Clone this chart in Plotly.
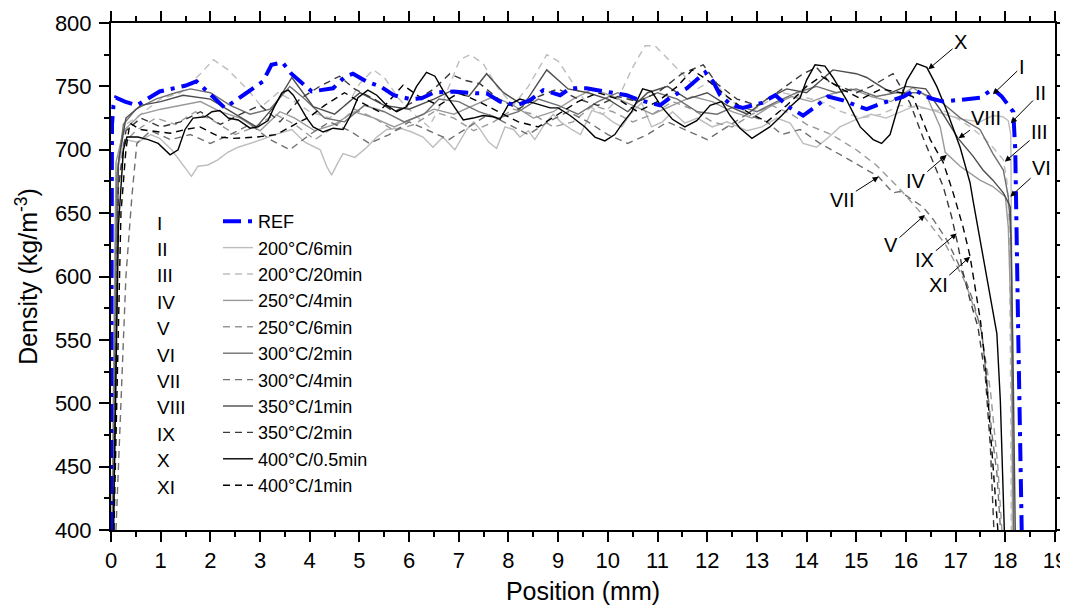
import plotly.graph_objects as go

# ---------------- data ----------------
ref_x = [0.0, 0.02, 0.05, 0.1, 0.28, 0.52, 0.98, 1.49, 1.72, 2.06, 2.29, 2.66, 3.06, 3.23, 3.45, 3.63, 4.04, 4.47, 4.71, 4.87,
         5.15, 5.42, 5.69, 6.02, 6.25, 6.49, 6.89, 7.36, 7.56, 7.83, 8.17, 8.43, 8.7, 9.04, 9.24, 9.57, 9.98, 10.38, 10.65,
         11.05, 11.25, 11.59, 11.96, 12.12, 12.26, 12.49, 12.72, 13.1, 13.37, 13.53, 13.67, 13.93, 14.2, 14.43, 14.73,
         15.08, 15.21, 15.54, 15.94, 16.18, 16.49, 16.75, 17.22, 17.49, 17.75, 17.93, 18.16, 18.2, 18.26, 18.31, 18.33]
ref_y = [400, 720, 735, 741, 738, 735, 746, 750.5, 754, 742, 733, 743, 754, 767, 769, 760, 746, 748.5, 757.7, 760,
         753.7, 750, 743, 740, 740.6, 745, 746, 744.5, 744.5, 738, 735, 739, 747, 743, 748.5, 748.5, 746, 743, 739,
         735, 741, 748.5, 761, 753.7, 743, 735, 733, 737, 743, 738, 733, 727, 734.5, 742, 739,
         733.7, 732, 737, 741.6, 747, 740.6, 738, 740, 741, 748, 742, 730, 700, 555, 408, 400]

ii_x = [0.02, 0.1, 0.28, 0.54, 0.8, 0.98, 1.22, 1.39, 1.52, 1.62, 1.75, 1.95, 2.15, 2.35, 2.56, 2.8, 3.03, 3.3, 3.64, 3.9,
        4.21, 4.34, 4.44, 4.57, 4.67, 4.91, 5.15, 5.35, 5.55, 5.82, 6.05, 6.28, 6.48, 6.68, 6.92, 7.16, 7.3, 7.43, 7.6,
        7.76, 7.93, 8.1, 8.23, 8.4, 8.53, 8.74, 8.9, 9.05, 9.27, 9.45, 9.68, 9.9, 10.1, 10.28, 10.45, 10.68, 10.88,
        11.1, 11.3, 11.55, 11.8, 12.1, 12.4, 12.8, 13.1, 13.4, 13.67, 13.93, 14.2, 14.45, 14.67, 15.0, 15.3, 15.6,
        15.9, 16.2, 16.55, 16.85, 17.15, 17.49, 17.75, 17.95, 18.06, 18.11, 18.13, 18.14]
ii_y = [400, 680, 708, 706, 712, 709, 700, 691, 684, 679, 687, 688, 692, 698, 702, 705, 708, 712, 716, 706,
        700, 687, 680, 690, 697, 694, 702, 710, 716, 717, 714, 710, 702, 710, 700, 716, 722, 716, 706,
        701, 718, 716, 710, 715, 708, 721, 728, 722, 716, 712, 731, 728, 722, 718, 728, 737, 718,
        722, 730, 721, 725, 718, 722, 715, 718, 725, 721, 705, 702, 710, 718, 724, 728, 725,
        730, 735, 731, 727, 724, 722, 727, 726, 723, 712, 600, 400]

iii_x = [0.03, 0.12, 0.3, 0.6, 1.0, 1.4, 1.8, 2.06, 2.36, 2.76, 3.03, 3.36, 3.7, 4.0, 4.4, 4.8, 5.0, 5.28, 5.5, 5.8,
         6.1, 6.4, 6.7, 7.02, 7.23, 7.49, 7.8, 8.1, 8.4, 8.77, 9.0, 9.3, 9.6, 9.9, 10.2, 10.5, 10.75, 10.95, 11.2,
         11.5, 11.8, 12.1, 12.4, 12.8, 13.1, 13.5, 13.9, 14.3, 14.7, 15.1, 15.5, 15.9, 16.3, 16.82, 17.3, 17.6,
         17.75, 17.96, 18.03, 18.08, 18.11, 18.12]
iii_y = [400, 690, 720, 728, 740, 745, 760, 771, 763, 747, 734, 745, 738, 730, 725, 738, 752, 763, 757, 740,
         728, 718, 740, 771, 775, 768, 748, 735, 750, 775, 770, 752, 735, 728, 740, 765, 782, 782, 772,
         760, 748, 755, 742, 728, 735, 745, 742, 738, 730, 725, 728, 735, 733, 730, 718, 708,
         702, 692, 676, 640, 500, 400]

iv_x = [0.02, 0.1, 0.25, 0.6, 1.0, 1.4, 1.8, 2.2, 2.6, 3.0, 3.4, 3.7, 4.1, 4.5, 4.9, 5.3, 5.7, 6.1, 6.5, 6.9, 7.3,
        7.7, 8.1, 8.5, 8.9, 9.3, 9.7, 10.1, 10.5, 10.9, 11.3, 11.7, 12.1, 12.5, 12.9, 13.3, 13.7, 14.1, 14.5, 14.9,
        15.3, 15.7, 16.14, 16.42, 16.69, 16.79, 17.09, 17.49, 17.75, 18.0, 18.06, 18.12, 18.16]
iv_y = [400, 690, 715, 728, 732, 735, 738, 730, 725, 715, 730, 725, 715, 720, 730, 725, 718, 725, 732, 728, 735,
        742, 735, 725, 730, 740, 748, 742, 735, 728, 735, 742, 738, 730, 725, 735, 742, 738, 744, 748,
        742, 738, 749, 742, 718, 698, 687, 676, 671, 663, 639, 560, 400]

v_x = [0.05, 0.12, 0.25, 0.5, 0.9, 1.3, 1.7, 2.1, 2.5, 2.9, 3.3, 3.7, 4.1, 4.5, 4.9, 5.3, 5.7, 6.1, 6.5, 6.9, 7.3,
       7.7, 8.1, 8.5, 8.9, 9.3, 9.7, 10.1, 10.5, 10.9, 11.3, 11.7, 12.1, 12.5, 12.9, 13.3, 13.7, 14.0, 14.5, 15.0,
       15.4, 15.9, 16.35, 16.8, 17.2, 17.5, 17.7, 17.85, 17.93]
v_y = [400, 660, 705, 715, 725, 720, 730, 722, 712, 718, 728, 720, 708, 718, 732, 725, 715, 720, 730, 725, 715,
       722, 732, 728, 718, 722, 735, 730, 722, 728, 738, 732, 722, 718, 728, 735, 728, 720, 712, 700,
       688, 668, 648, 625, 595, 560, 510, 450, 400]

vi_x = [0.03, 0.12, 0.25, 0.5, 0.9, 1.3, 1.6, 2.0, 2.4, 2.8, 3.2, 3.6, 3.9, 4.3, 4.7, 5.1, 5.5, 5.9, 6.3, 6.6, 7.0,
        7.4, 7.8, 8.2, 8.6, 9.0, 9.4, 9.8, 10.2, 10.6, 11.0, 11.4, 11.8, 12.2, 12.6, 13.0, 13.4, 13.8, 14.2, 14.6,
        15.0, 15.4, 15.8, 16.3, 16.7, 17.1, 17.49, 17.75, 17.96, 18.06, 18.12, 18.17]
vi_y = [400, 680, 720, 732, 740, 745, 748, 745, 735, 728, 732, 750, 740, 725, 722, 735, 730, 722, 728, 740, 738,
        730, 725, 730, 740, 735, 728, 738, 745, 738, 745, 740, 730, 728, 735, 730, 738, 745, 750, 745,
        748, 742, 745, 745, 738, 725, 716, 697, 684, 663, 630, 400]

vii_x = [0.1, 0.3, 0.42, 0.52, 0.8, 1.2, 1.6, 2.0, 2.4, 2.8, 3.2, 3.6, 4.0, 4.4, 4.8, 5.2, 5.6, 6.0, 6.4, 6.8, 7.2, 7.6,
         8.0, 8.4, 8.8, 9.2, 9.6, 10.0, 10.4, 10.8, 11.2, 11.6, 12.0, 12.4, 12.8, 13.2, 13.5, 13.87, 14.27, 14.73,
         15.21, 15.44, 15.74, 15.88, 16.34, 16.55, 16.82, 17.02, 17.22, 17.35, 17.53, 17.63, 17.73, 17.83, 17.9]
vii_y = [400, 600, 663, 705, 715, 708, 712, 705, 712, 720, 708, 700, 712, 722, 715, 705, 712, 722, 715, 708, 718, 728,
         720, 712, 722, 730, 722, 712, 705, 712, 722, 715, 708, 718, 728, 722, 712, 716, 705, 695,
         684, 679, 666, 667, 655, 645, 629, 613, 595, 581, 555, 516, 476, 445, 402]

viii_x = [0.05, 0.15, 0.3, 0.6, 1.0, 1.45, 2.0, 2.46, 2.93, 3.3, 3.64, 4.07, 4.5, 5.01, 5.5, 6.0, 6.5, 6.82, 7.2,
          7.56, 7.9, 8.3, 8.77, 9.2, 9.6, 10.0, 10.4, 10.8, 11.2, 11.6, 12.0, 12.4, 12.8, 13.2, 13.6, 14.0, 14.53,
          15.0, 15.21, 15.41, 15.7, 16.0, 16.4, 16.7, 17.05, 17.35, 17.55, 17.75, 17.96, 18.1, 18.15, 18.2]
viii_y = [400, 690, 725, 735, 738, 743, 740, 729, 718, 735, 757, 734, 728, 745, 735, 732, 740, 746, 742,
          760, 745, 735, 763, 748, 745, 740, 730, 745, 750, 740, 745, 735, 728, 740, 748, 745, 763,
          760, 757, 752, 745, 750, 748, 731, 709, 695, 684, 676, 666, 655, 550, 400]

ix_x = [0.05, 0.15, 0.3, 0.6, 1.0, 1.4, 1.8, 2.2, 2.6, 3.0, 3.4, 3.8, 4.2, 4.6, 4.9, 5.3, 5.7, 6.1, 6.5, 6.82, 7.1,
        7.43, 7.8, 8.2, 8.6, 9.0, 9.4, 9.8, 10.2, 10.6, 11.0, 11.49, 11.92, 12.2, 12.6, 13.0, 13.4, 13.93, 14.2,
        14.47, 14.8, 15.0, 15.3, 15.74, 16.08, 16.34, 16.55, 16.75, 16.92, 17.05, 17.15, 17.3, 17.45, 17.6, 17.7,
        17.77]
ix_y = [400, 670, 715, 725, 718, 722, 730, 720, 728, 735, 722, 740, 750, 758, 748, 740, 730, 738, 748, 760, 755,
        752, 740, 732, 742, 748, 740, 735, 742, 738, 745, 760, 767, 752, 740, 735, 745, 760, 765,
        753, 748, 745, 750, 760, 737, 710, 690, 671, 647, 624, 603, 580, 560, 520, 465, 400]

x_x = [0.05, 0.15, 0.25, 0.32, 0.54, 0.75, 0.95, 1.19, 1.35, 1.49, 1.65, 1.89, 2.03, 2.19, 2.36, 2.56, 2.8, 2.96,
       3.16, 3.3, 3.44, 3.57, 3.67, 3.8, 3.94, 4.07, 4.27, 4.47, 4.67, 4.81, 4.97, 5.17, 5.35, 5.55, 5.75, 5.95,
       6.15, 6.35, 6.52, 6.68, 6.89, 7.09, 7.29, 7.49, 7.69, 7.83, 7.99, 8.23, 8.5, 8.84, 9.0, 9.24, 9.54, 9.74,
       9.94, 10.14, 10.28, 10.48, 10.7, 10.88, 11.08, 11.3, 11.55, 11.79, 12.06, 12.29, 12.46, 12.66, 12.9, 13.06,
       13.26, 13.5, 13.67, 13.87, 14.0, 14.17, 14.37, 14.53, 14.81, 15.08, 15.34, 15.51, 15.68, 15.82, 16.02,
       16.22, 16.42, 16.62, 16.82, 17.09, 17.29, 17.35, 17.53, 17.7, 17.83, 17.9, 17.95, 17.98]
x_y = [400, 640, 700, 710, 710, 708, 705, 696, 700, 716, 725, 726, 730, 731, 725, 723.5, 717, 718,
       723, 735, 745, 747, 743, 734, 725, 718, 714, 717, 716, 726, 741, 747, 743, 735, 730, 734,
       750, 761, 758, 747, 735, 723.5, 725, 727, 726, 724, 735, 740, 737, 733, 733, 727, 718, 710,
       707, 712, 720, 730, 748, 746, 734, 724, 718, 723, 735, 738, 727, 717, 709, 713,
       718, 727, 734, 741, 755, 767, 766, 757, 739, 718, 708, 705, 712, 731, 755,
       768, 765, 750, 731, 702, 674, 660, 621, 581, 555, 502, 440, 400]

xi_x = [0.06, 0.2, 0.3, 0.38, 0.58, 0.92, 1.19, 1.5, 1.79, 2.19, 2.46, 2.93, 3.33, 3.7, 4.0, 4.3, 4.7, 5.0, 5.4, 5.88,
        6.2, 6.6, 7.0, 7.4, 7.8, 8.2, 8.6, 9.0, 9.4, 9.8, 10.2, 10.6, 11.0, 11.4, 11.7, 12.0, 12.4, 12.8, 13.2,
        13.6, 14.0, 14.3, 14.7, 15.1, 15.5, 15.9, 16.14, 16.49, 16.75, 16.95, 17.15, 17.29, 17.39, 17.5, 17.6,
        17.7, 17.8, 17.85]
xi_y = [400, 650, 700, 721, 716, 714, 713, 716, 718, 710, 709, 710, 712, 720, 726, 735, 745, 738, 730, 751,
        742, 735, 745, 738, 730, 722, 718, 728, 738, 745, 740, 730, 738, 750, 763, 755, 742, 730, 722,
        735, 750, 758, 748, 740, 748, 745, 742, 708, 690, 666, 639, 616, 592, 565, 530,
        480, 430, 400]

numerals = ["I", "II", "III", "IV", "V", "VI", "VII", "VIII", "IX", "X", "XI"]
labels = ["REF", "200°C/6min", "200°C/20min", "250°C/4min", "250°C/6min", "300°C/2min",
          "300°C/4min", "350°C/1min", "350°C/2min", "400°C/0.5min", "400°C/1min"]
x_ticks = list(range(0, 20))
y_ticks = list(range(400, 801, 50))

# ---------------- styles ----------------
series = [
    (ii_x, ii_y, "#bdbdbd", "solid"),
    (iii_x, iii_y, "#bdbdbd", "7px,5px"),
    (iv_x, iv_y, "#999999", "solid"),
    (v_x, v_y, "#999999", "7px,5px"),
    (vi_x, vi_y, "#707070", "solid"),
    (vii_x, vii_y, "#707070", "7px,5px"),
    (viii_x, viii_y, "#4d4d4d", "solid"),
    (ix_x, ix_y, "#3a3a3a", "7px,5px"),
    (x_x, x_y, "#000000", "solid"),
    (xi_x, xi_y, "#000000", "7px,5px"),
]

FONT = "Arial, Liberation Sans, sans-serif"
fig = go.Figure()
for i, (xs, ys, col, dash) in enumerate(series):
    fig.add_trace(go.Scatter(x=xs, y=ys, mode="lines", name=labels[i + 1],
                             line=dict(color=col, width=1.4, dash=dash),
                             legendrank=i + 2))
fig.add_trace(go.Scatter(x=ref_x, y=ref_y, mode="lines", name=labels[0],
                         line=dict(color="#0000ff", width=4, dash="18px,7px,4px,7px"),
                         legendrank=1))

# the page body adds an 8 px offset; the figure is sized to compensate
OFF = 8
FIG_W, FIG_H = 1068 - OFF, 606 - OFF
# plot area in page pixels
L, R, T, B = 111, 1055, 23, 530
W, H = R - L, B - T

annotations = []
# roman numerals of the legend
row0, step = 223, 26.4
for k, num in enumerate(numerals):
    ypx = row0 + k * step
    annotations.append(dict(text=num, xref="paper", yref="paper", x=(155 - L) / W, y=(B - ypx) / H,
                            xanchor="left", yanchor="middle", showarrow=False,
                            font=dict(size=19, color="black", family=FONT)))

# labelled arrows: (text, tip_x, tip_y, text_x, text_y)
callouts = [
    ("X", 16.45, 763.5, 17.1, 785),
    ("I", 17.75, 743.7, 18.33, 765.5),
    ("II", 18.11, 721, 18.7, 744.5),
    ("VIII", 17.06, 709, 17.62, 724.8),
    ("III", 17.99, 690.6, 18.69, 714),
    ("IV", 16.82, 695.9, 16.2, 675),
    ("VI", 18.1, 663, 18.73, 685.4),
    ("VII", 15.45, 678.7, 14.72, 660.4),
    ("V", 16.38, 648.5, 15.7, 624.8),
    ("IX", 17.02, 634, 16.38, 613),
    ("XI", 17.29, 615.6, 16.65, 593.3),
]
for txt, tx, ty, lx, ly in callouts:
    annotations.append(dict(text=txt, x=tx, y=ty, ax=lx, ay=ly, xref="x", yref="y", axref="x", ayref="y",
                            showarrow=True, arrowhead=2, arrowsize=1.2, arrowwidth=1, arrowcolor="black",
                            standoff=0, startstandoff=0,
                            font=dict(size=20, color="black", family=FONT)))

axis_common = dict(showline=True, linecolor="black", linewidth=2, mirror="ticks", ticks="outside",
                   ticklen=10, tickwidth=2, tickcolor="black", showgrid=False, zeroline=False,
                   automargin=False,
                   tickfont=dict(size=22, color="black", family=FONT))

fig.update_layout(
    width=FIG_W, height=FIG_H,
    margin=dict(l=L - OFF, r=FIG_W - (R - OFF), t=T - OFF, b=FIG_H - (B - OFF), pad=0, autoexpand=False),
    paper_bgcolor="white", plot_bgcolor="white",
    font=dict(family=FONT, color="black"),
    showlegend=True,
    legend=dict(x=(218 - L) / W, y=(B - 203) / H, xanchor="left", yanchor="top",
                bgcolor="rgba(0,0,0,0)", borderwidth=0, itemwidth=30,
                font=dict(size=18, color="black", family=FONT), traceorder="normal"),
    annotations=annotations,
    xaxis=dict(range=[0, 19], tickvals=x_ticks, ticktext=[str(v) for v in x_ticks],
               minor=dict(dtick=0.5, ticks="outside", ticklen=5, tickwidth=2, tickcolor="black"),
               title=dict(text="Position (mm)", font=dict(size=25, family=FONT), standoff=10),
               **axis_common),
    yaxis=dict(range=[400, 800], tickvals=y_ticks, ticktext=[str(v) for v in y_ticks],
               minor=dict(dtick=25, ticks="outside", ticklen=5, tickwidth=2, tickcolor="black"),
               ticklabelstandoff=3,
               title=dict(text="Density (kg/m<sup>-3</sup>)", font=dict(size=25, family=FONT), standoff=10),
               **axis_common),
)

fig.write_html("out.html")
